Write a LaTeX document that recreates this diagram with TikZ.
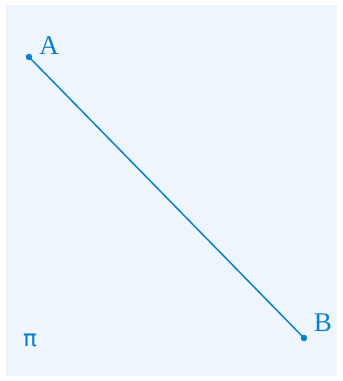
\documentclass[tikz,border=0pt]{standalone}
\usepackage{fontspec}
\setmainfont{Liberation Serif}
\newfontfamily\pifont{DejaVu Sans}
\definecolor{bgc}{HTML}{EEF5FD}
\definecolor{lc}{HTML}{0A7FCC}
\begin{document}
\begin{tikzpicture}[x=1pt,y=-1pt,
  lbl/.style={text=lc,font=\fontsize{27}{30}\selectfont,inner sep=0pt},
  dotp/.style={circle,fill=lc,inner sep=0pt,minimum size=6.5pt}]
\useasboundingbox (0,0) rectangle (343,381);
\fill[bgc] (6,5) rectangle (337,376);
\node[dotp] (A) at (29,57) {};
\node[dotp] (B) at (304,338) {};
\draw[lc,line width=1.5pt] (A.center) -- (B.center);
\node[lbl] (lA) at (49,46) {A};
\node[lbl] (lB) at (323,323) {B};
\node[lbl,font=\pifont\fontsize{23}{26}\selectfont] (pi) at (30,340) {π};
\end{tikzpicture}
\end{document}
